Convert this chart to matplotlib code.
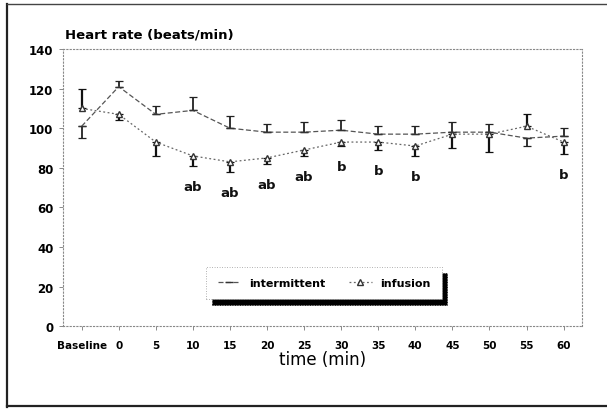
import matplotlib
matplotlib.use("Agg")
import matplotlib.pyplot as plt
from matplotlib.lines import Line2D
import numpy as np

# ---- data ----
time_labels = ["Baseline", "0", "5", "10", "15", "20", "25", "30", "35", "40", "45", "50", "55", "60"]
intermittent = [101, 121, 107, 109, 100, 98, 98, 99, 97, 97, 98, 98, 95, 96]
intermittent_err_lo = [6, 0, 0, 0, 0, 0, 0, 0, 0, 0, 0, 0, 4, 0]
intermittent_err_hi = [0, 3, 4, 7, 6, 4, 5, 5, 4, 4, 5, 4, 0, 4]
infusion = [110, 107, 93, 86, 83, 85, 89, 93, 93, 91, 97, 97, 101, 93]
infusion_err_lo = [0, 3, 7, 5, 5, 3, 3, 2, 4, 5, 7, 9, 0, 6]
infusion_err_hi = [10, 0, 0, 0, 0, 0, 0, 0, 0, 0, 0, 0, 6, 0]
sig_labels = ["", "", "", "ab", "ab", "ab", "ab", "b", "b", "b", "", "", "", "b"]
y_ticks = [0, 20, 40, 60, 80, 100, 120, 140]

plt.rcParams['font.family'] = ['DejaVu Sans']

fig = plt.figure(figsize=(6.07, 4.10), dpi=100)
ax = fig.add_axes([0.104, 0.202, 0.855, 0.676])

x = np.arange(len(time_labels))

int_style = dict(color="#555555", ls=(0, (4, 2)), lw=0.9, marker="_", ms=6, mec="#333333")
inf_style = dict(color="#666666", ls=(0, (1.5, 2)), lw=0.9, marker="^", ms=4, mfc="white", mec="#333333")

ax.errorbar(x, intermittent, yerr=[intermittent_err_lo, intermittent_err_hi],
            ecolor="#222222", elinewidth=1.3, capsize=3, capthick=0.9, **int_style)
ax.errorbar(x, infusion, yerr=[infusion_err_lo, infusion_err_hi],
            ecolor="#111111", elinewidth=1.6, capsize=3, capthick=0.9, **inf_style)

for xi, v, lo, s in zip(x, infusion, infusion_err_lo, sig_labels):
    if s:
        ax.text(xi, v - lo - 7, s, ha="center", va="top", fontsize=9.5,
                fontweight="bold", color="#111111")

ax.set_xlim(-0.5, len(time_labels) - 0.5)
ax.set_ylim(0, 140)
ax.set_yticks(y_ticks)
ax.set_yticklabels([str(t) for t in y_ticks], fontsize=8.5, fontweight="bold")
ax.set_xticks(x)
ax.set_xticklabels(time_labels, fontsize=7.5, fontweight="bold")
ax.tick_params(axis="x", length=3, width=0.6, color="#777777", pad=7)
ax.tick_params(axis="y", length=3, width=0.6, color="#777777", pad=4)
for sp in ax.spines.values():
    sp.set_linestyle((0, (1, 2)))
    sp.set_color("#888888")
    sp.set_linewidth(0.8)

ax.set_xlabel("time (min)", fontsize=12, labelpad=0)
fig.text(0.107, 0.905, "Heart rate (beats/min)", fontsize=9.5, fontweight="bold", ha="left")

handles = [Line2D([], [], **int_style), Line2D([], [], **inf_style)]
leg = ax.legend(handles, ["intermittent", "infusion"], loc="center",
                bbox_to_anchor=(0.503, 0.155), ncol=2, frameon=True,
                prop={"weight": "bold", "size": 8}, handlelength=2.0, columnspacing=2.2,
                borderpad=1.0, handletextpad=0.8, fancybox=False,
                shadow={"color": "black", "alpha": 1, "ox": 4, "oy": -4}, edgecolor="#999999")
leg.get_frame().set_linewidth(0.6)
leg.get_frame().set_linestyle((0, (1, 2)))

# outer frame
fig.add_artist(Line2D([0.012, 0.012], [0.005, 0.988], color="#222222", lw=1.6, transform=fig.transFigure))
fig.add_artist(Line2D([0.012, 0.998], [0.988, 0.988], color="#444444", lw=1.0, transform=fig.transFigure))
fig.add_artist(Line2D([0.012, 0.998], [0.008, 0.008], color="#222222", lw=1.6, transform=fig.transFigure))

fig.savefig("out.png", dpi=100)
